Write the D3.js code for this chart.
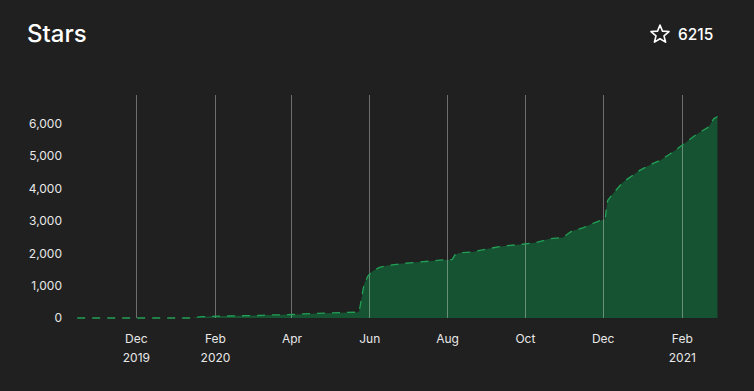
<!DOCTYPE html>
<html>
<head>
<meta charset="utf-8">
<script src="https://cdn.jsdelivr.net/npm/d3@7"></script>
<style>
  html, body { margin: 0; padding: 0; background: #202020; }
  svg { display: block; font-family: Inter, "Noto Sans", sans-serif; }
</style>
</head>
<body>
<svg id="chart" width="754" height="391"></svg>
<script>
const title = "Stars";
const totalStars = 6215;

const dates = ["2019-10-16","2020-01-15","2020-01-17","2020-01-22","2020-02-07","2020-03-09","2020-03-12","2020-04-07","2020-04-10","2020-05-09","2020-05-23","2020-05-24","2020-05-25","2020-05-27","2020-05-28","2020-05-31","2020-06-04","2020-06-09","2020-06-15","2020-06-27","2020-07-08","2020-07-20","2020-07-26","2020-08-01","2020-08-05","2020-08-07","2020-08-11","2020-08-21","2020-09-03","2020-09-13","2020-09-29","2020-10-10","2020-10-21","2020-10-31","2020-11-04","2020-11-07","2020-11-16","2020-11-24","2020-12-01","2020-12-03","2020-12-04","2020-12-05","2020-12-09","2020-12-17","2020-12-22","2020-12-30","2021-01-10","2021-01-15","2021-01-23","2021-02-01","2021-02-13","2021-02-22","2021-02-26","2021-03-01"];
const stars = [0,0,20,40,60,80,90,110,125,165,180,200,400,850,1050,1300,1455,1560,1620,1680,1720,1760,1785,1800,1805,1940,2010,2040,2145,2215,2275,2330,2450,2480,2605,2685,2790,2930,3035,3060,3425,3630,3835,4195,4330,4555,4780,4860,5065,5325,5680,5890,6145,6215];

const xTickDates = ["2019-12-01","2020-02-01","2020-04-01","2020-06-01","2020-08-01","2020-10-01","2020-12-01","2021-02-01"];
const yTickValues = [0,1000,2000,3000,4000,5000,6000];
const yMax = 6880;

const parse = d3.utcParse("%Y-%m-%d");
const data = dates.map((d, i) => ({ date: parse(d), value: stars[i] }));
const ticks = xTickDates.map(parse);

const svg = d3.select("#chart");
const plotLeft = 77.2, plotRight = 717.5, plotTop = 95, plotBottom = 318;

const x = d3.scaleUtc().domain(d3.extent(data, d => d.date)).range([plotLeft, plotRight]);
const y = d3.scaleLinear().domain([0, yMax]).range([plotBottom, plotTop]);

// title
svg.append("text").attr("x", 27).attr("y", 42)
  .attr("fill", "#ffffff").attr("font-size", 24).attr("font-weight", 500)
  .text(title);

// star icon
const starPts = d3.range(10).map(i => {
  const r = i % 2 === 0 ? 9.5 : 4.2;
  const a = -Math.PI / 2 + i * Math.PI / 5;
  return [660 + r * Math.cos(a), 34.5 + r * Math.sin(a)];
});
svg.append("path").attr("d", "M" + starPts.join("L") + "Z")
  .attr("fill", "none").attr("stroke", "#ffffff").attr("stroke-width", 1.6)
  .attr("stroke-linejoin", "round");
svg.append("text").attr("x", 678).attr("y", 40)
  .attr("fill", "#ffffff").attr("font-size", 15.5).attr("font-weight", 500)
  .text(totalStars);

// area + line
const area = d3.area().x(d => x(d.date)).y0(y(0)).y1(d => y(d.value));
const line = d3.line().x(d => x(d.date)).y(d => y(d.value));

svg.append("path").datum(data).attr("d", area).attr("fill", "#165333");

// vertical grid
svg.append("g").selectAll("line").data(ticks).join("line")
  .attr("x1", d => Math.round(x(d)) + 0.5).attr("x2", d => Math.round(x(d)) + 0.5)
  .attr("y1", plotTop).attr("y2", plotBottom)
  .attr("stroke", "#ffffff").attr("stroke-opacity", 0.35).attr("stroke-width", 1);

svg.append("path").datum(data).attr("d", line)
  .attr("fill", "none").attr("stroke", "#22a055").attr("stroke-width", 1.3)
  .attr("stroke-dasharray", "8,7");

// y axis
const yAxis = svg.append("g").attr("transform", `translate(62,0)`)
  .call(d3.axisLeft(y).tickValues(yTickValues).tickSize(0).tickPadding(0).tickFormat(d3.format(",")));
yAxis.select(".domain").remove();
yAxis.selectAll("text").attr("fill", "#e8e8e8").attr("font-size", 12)
  .attr("font-family", "Inter, 'Noto Sans', sans-serif");

// x axis
const xAxis = svg.append("g").attr("transform", `translate(0,${plotBottom})`)
  .call(d3.axisBottom(x).tickValues(ticks).tickSize(0).tickPadding(0).tickFormat(() => ""));
xAxis.select(".domain").remove();
xAxis.selectAll(".tick text").each(function(d, i) {
  const t = d3.select(this).attr("fill", "#e8e8e8").attr("font-size", 12)
    .attr("font-family", "Inter, 'Noto Sans', sans-serif").attr("dy", null).attr("y", 25);
  t.append("tspan").attr("x", 0).text(d3.utcFormat("%b")(d));
  const prev = i > 0 ? ticks[i - 1] : null;
  if (!prev || prev.getUTCFullYear() !== d.getUTCFullYear()) {
    t.append("tspan").attr("x", 0).attr("dy", 19).text(d3.utcFormat("%Y")(d));
  }
});
</script>
</body>
</html>
